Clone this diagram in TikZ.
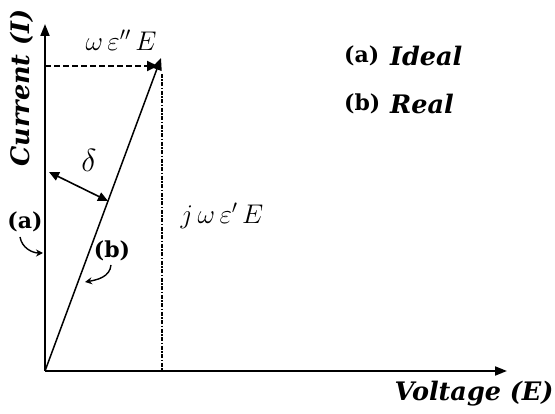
\documentclass[tikz,border=0pt]{standalone}
\usepackage{fix-cm}
\usepackage{fontspec}
\setmainfont{DejaVu Serif}
\usetikzlibrary{arrows.meta}
\tikzset{
  axis/.style={line width=1.8pt,-{Triangle[length=12pt,width=9pt]}},
  vec/.style={line width=1.5pt},
  lbl/.style={font=\fontsize{25.5}{28}\selectfont\bfseries\itshape,inner sep=0pt},
  tag/.style={font=\fontsize{22}{24}\selectfont\bfseries,inner sep=0pt},
  mth/.style={font=\fontsize{27}{30}\selectfont,inner sep=0pt},
  tip/.style={-{Triangle[length=12pt,width=10pt]}},
}
\begin{document}
\begin{tikzpicture}[x=1pt,y=-1pt]
\useasboundingbox (0,0) rectangle (555,414);
\coordinate (O) at (45,371);
\coordinate (Itop) at (45,24);
\coordinate (Eend) at (507,371);
\coordinate (P) at (161,58);
\coordinate (Dl) at (45,66);
\coordinate (Dr) at (158,66);
\coordinate (Vt) at (162,74);
\coordinate (Vb) at (162,371);
\coordinate (dA) at (49,172);
\coordinate (dB) at (108,201);
\coordinate (aS) at (20,237);
\coordinate (aE) at (43,253);
\coordinate (bS) at (111,265);
\coordinate (bE) at (85,282);

\draw[axis] (O) -- (Itop);
\draw[axis] (O) -- (Eend);
\draw[line width=2pt,dash pattern=on 6pt off 3pt,-{Triangle[length=11pt,width=10pt]}] (Dl) -- (Dr);
\draw[vec,tip] (O) -- (P);
\draw[line width=1.8pt,dash pattern=on 4pt off 1.5pt on 1.5pt off 1.5pt] (Vt) -- (Vb);
\draw[line width=1.6pt,{Triangle[length=10pt,width=9pt]}-{Triangle[length=10pt,width=9pt]}] (dA) -- (dB);
\draw[line width=1.4pt,-{Stealth[length=7pt,width=7pt]}] (aS) to[out=-80,in=180] (aE);
\draw[line width=1.4pt,-{Stealth[length=7pt,width=7pt]}] (bS) to[out=-95,in=10] (bE);

\node[lbl,rotate=90] (cur) at (22,88) {Current (I)};
\node[lbl] (volt) at (474,394) {Voltage (E)};
\node[mth] (wee) at (121,40) {$\omega\,\varepsilon''\,E$};
\node[mth] (jwe) at (222,216) {$j\,\omega\,\varepsilon'\,E$};
\node[mth,font=\fontsize{32}{34}\selectfont] (del) at (89,160) {$\delta$};
\node[tag] (ta) at (25,222) {(a)};
\node[tag] (tb) at (112,251) {(b)};
\node[tag,anchor=west] (la) at (344,56) {(a)};
\node[lbl,anchor=west] (lai) at (390,56) {Ideal};
\node[tag,anchor=west] (lb) at (344,104) {(b)};
\node[lbl,anchor=west] (lbr) at (390,104) {Real};
\end{tikzpicture}
\end{document}
